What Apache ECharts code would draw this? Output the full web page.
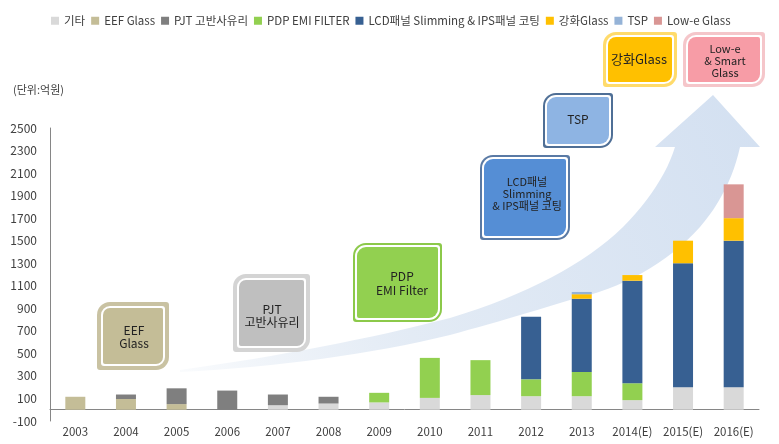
<!DOCTYPE html>
<html>
<head>
<meta charset="utf-8">
<script src="https://cdn.jsdelivr.net/npm/echarts@6/dist/echarts.min.js"></script>
<style>
html,body{margin:0;padding:0;background:#fff;}
#chart{width:779px;height:444px;}
</style>
</head>
<body>
<div id="chart"></div>
<script>
var categories = ['2003','2004','2005','2006','2007','2008','2009','2010','2011','2012','2013','2014(E)','2015(E)','2016(E)'];
var seriesNames = ['기타','EEF Glass','PJT 고반사유리','PDP EMI FILTER','LCD패널 Slimming & IPS패널 코팅','강화Glass','TSP','Low-e Glass'];
var etcValues   = [0, 0, 0, 0, 40, 55, 65, 105, 130, 120, 120, 85, 200, 200];
var eefValues   = [115, 95, 50, 0, 0, 0, 0, 0, 0, 0, 0, 0, 0, 0];
var pjtValues   = [0, 40, 140, 170, 95, 60, 0, 0, 0, 0, 0, 0, 0, 0];
var pdpValues   = [0, 0, 0, 0, 0, 0, 85, 355, 310, 150, 215, 150, 0, 0];
var lcdValues   = [0, 0, 0, 0, 0, 0, 0, 0, 0, 555, 650, 910, 1100, 1300];
var temperedValues = [0, 0, 0, 0, 0, 0, 0, 0, 0, 0, 40, 50, 200, 200];
var tspValues   = [0, 0, 0, 0, 0, 0, 0, 0, 0, 0, 20, 0, 0, 0];
var loweValues  = [0, 0, 0, 0, 0, 0, 0, 0, 0, 0, 0, 0, 0, 300];
var yTickMin = -100, yTickMax = 2500, yTickStep = 200;

var colors = ['#d9d9d9','#c4bd97','#7f7f7f','#92d050','#376092','#ffc000','#95b3d7','#d99694'];
var allValues = [etcValues, eefValues, pjtValues, pdpValues, lcdValues, temperedValues, tspValues, loweValues];
var FONT = '"Noto Sans CJK KR", "Malgun Gothic", sans-serif';

var series = seriesNames.map(function(n, i){
  return {
    name: n, type: 'bar', stack: 'total', barWidth: 20,
    itemStyle: {color: colors[i]},
    data: allValues[i]
  };
});

function box(x, y, w, h, border, bw, fill, text, tx, ty, fontSize, lh) {
  var rb = 13, rs = 3;
  return {
    type: 'group', z: 5,
    children: [
      {type:'rect', shape:{x:x, y:y, width:w, height:h, r:[rb,rs,rb,rs]}, style:{fill:border}, z:5},
      {type:'rect', shape:{x:x+bw, y:y+bw, width:w-2*bw, height:h-2*bw, r:[rb-bw,rs,rb-bw,rs]}, style:{fill:'#ffffff'}, z:5},
      {type:'rect', shape:{x:x+bw+2, y:y+bw+2, width:w-2*bw-4, height:h-2*bw-4, r:[rb-bw-2,2,rb-bw-2,2]}, style:{fill:fill}, z:5},
      {type:'text', z:6, style:{text:text, x:tx, y:ty, textAlign:'center', textVerticalAlign:'middle',
        fill:'#222222', font: fontSize + 'px ' + FONT, lineHeight: lh}}
    ]
  };
}

// decorative arrow outline: sampled quadratic segments
function quadPts(p0, c, p1, n) {
  var out = [];
  for (var i = 1; i <= n; i++) {
    var t = i / n, u = 1 - t;
    out.push([u*u*p0[0] + 2*u*t*c[0] + t*t*p1[0], u*u*p0[1] + 2*u*t*c[1] + t*t*p1[1]]);
  }
  return out;
}
function arrowPoints() {
  var pts = [[180,370]];
  pts = pts.concat(quadPts([180,370],[330,349],[450,318],16));
  pts = pts.concat(quadPts([450,318],[565,283],[623,227],16));
  pts = pts.concat(quadPts([623,227],[663,186],[675,147],12));
  pts.push([655,147],[713,95],[760,147],[740,147]);
  pts = pts.concat(quadPts([740,147],[730,192],[700,227],12));
  pts = pts.concat(quadPts([700,227],[650,282],[570,300],16));
  pts = pts.concat(quadPts([570,300],[505,320],[450,335],12));
  pts = pts.concat(quadPts([450,335],[330,364],[180,372],16));
  return pts;
}

var option = {
  animation: false,
  backgroundColor: '#ffffff',
  textStyle: {fontFamily: FONT},
  legend: {
    top: 10, left: 46,
    itemWidth: 8, itemHeight: 8, itemGap: 6,
    icon: 'rect',
    textStyle: {fontSize: 11.5, color: '#404040', fontFamily: FONT},
    data: seriesNames
  },
  grid: {left: 50, right: 20, top: 128, bottom: 23},
  xAxis: {
    type: 'category', data: categories,
    axisLine: {onZero: true, lineStyle: {color: '#868686'}},
    axisTick: {show: false},
    axisLabel: {color: '#404040', fontSize: 11.5, margin: 5, interval: 0, fontFamily: FONT}
  },
  yAxis: {
    type: 'value', min: yTickMin, max: yTickMax, interval: yTickStep,
    axisLine: {show: true, lineStyle: {color: '#868686'}},
    axisTick: {show: false},
    splitLine: {show: false},
    axisLabel: {color: '#404040', fontSize: 12, margin: 13, fontFamily: FONT,
      formatter: function(v){ return String(v); }}
  },
  graphic: [
    {type:'text', x: 13, y: 84, z: 5, style:{text:'(단위:억원)', fill:'#404040', font:'11px ' + FONT}},
    {type:'polygon', z: 0, shape:{points: arrowPoints()},
      style:{fill: new echarts.graphic.LinearGradient(0, 1, 1, 0, [
        {offset:0, color:'rgba(220,230,242,0.15)'},
        {offset:0.35, color:'#e3ebf5'},
        {offset:1, color:'#d3e0f1'}
      ])}},
    box(97, 302, 72, 68, '#c9c2a2', 4, '#c4bd97', 'EEF\nGlass', 134, 337, 12, 13),
    box(233, 274, 77, 78, '#d4d4d4', 4, '#bfbfbf', 'PJT\n고반사유리', 272, 316, 12, 13),
    box(353, 243, 89, 79, '#8cc94a', 2, '#92d050', 'PDP\nEMI Filter', 402, 283, 12, 14),
    box(480, 155, 90, 85, '#5a7aa5', 2, '#558ed5', 'LCD패널\nSlimming\n& IPS패널 코팅', 527, 194, 11, 12),
    box(543, 93, 70, 55, '#4f6f96', 2, '#8eb4e3', 'TSP', 578, 119, 12, 14),
    box(603, 32, 74, 55, '#ffdb6b', 3, '#ffc000', '강화Glass', 639, 59, 13, 14),
    box(683, 32, 82, 55, '#f5c6ca', 3, '#f79ca6', 'Low-e\n& Smart\nGlass', 725, 61, 11, 12)
  ],
  series: series
};

var chart = echarts.init(document.getElementById('chart'), null, {renderer: 'canvas'});
chart.setOption(option);
</script>
</body>
</html>
